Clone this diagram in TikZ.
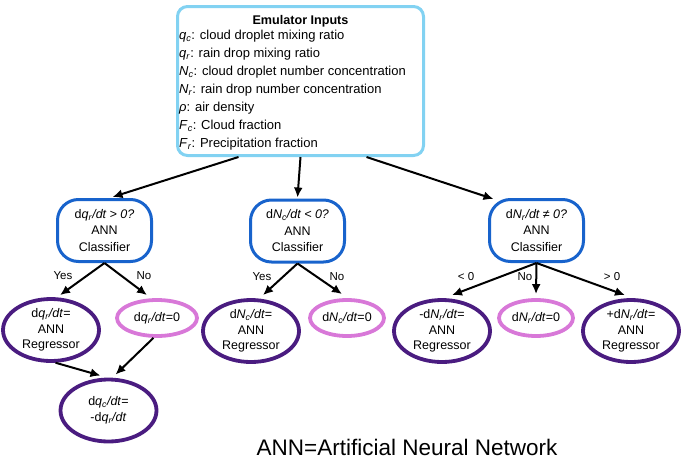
\documentclass[tikz,border=0pt]{standalone}
\usepackage{fontspec}
\setmainfont{Liberation Sans}
\usetikzlibrary{shapes.geometric,arrows.meta,calc}
\definecolor{skyc}{HTML}{82D2F2}
\definecolor{clsc}{HTML}{1863CC}
\definecolor{regc}{HTML}{4A1C80}
\definecolor{zeroc}{HTML}{D878D8}
\newcommand{\vq}[2]{\textit{#1}\textsubscript{\textit{#2}}}
\begin{document}
\begin{tikzpicture}[x=1pt,y=-1pt,
  inbox/.style={draw=skyc, line width=3pt, rounded corners=10pt, minimum width=246pt, minimum height=149pt},
  ttl/.style={font=\fontsize{12.6}{14}\selectfont\bfseries},
  inl/.style={anchor=base west, font=\fontsize{13}{14}\selectfont, inner sep=0pt},
  clsbox/.style={draw=clsc, line width=3pt, rounded corners=21pt, minimum width=94pt, minimum height=62pt, align=center, font=\fontsize{12.5}{16.5}\selectfont, inner sep=0pt},
  regell/.style={ellipse, draw=regc, line width=3.8pt, minimum width=96pt, minimum height=62pt, inner sep=0pt, align=center, font=\fontsize{12.5}{15.5}\selectfont},
  zeroell/.style={ellipse, draw=zeroc, line width=3.8pt, minimum width=80pt, minimum height=36pt, inner sep=0pt, align=center, font=\fontsize{12.5}{15}\selectfont},
  arr/.style={-{Latex[length=10pt,width=9pt]}, line width=2pt},
  lbl/.style={font=\fontsize{11.5}{13}\selectfont, inner sep=0pt}]
\useasboundingbox (0,0) rectangle (683,461);

% input box
\node[inbox] (inp) at (300.5,81) {};
\node[ttl] (title) at (300.5,21) {Emulator Inputs};
\node[inl] (l1) at (179,39.5) {\vq{q}{c}: cloud droplet mixing ratio};
\node[inl] (l2) at (179,57.5) {\vq{q}{r}: rain drop mixing ratio};
\node[inl] (l3) at (179,75.5) {\vq{N}{c}: cloud droplet number concentration};
\node[inl] (l4) at (179,93.5) {\vq{N}{r}: rain drop number concentration};
\node[inl] (l5) at (179,111.5) {\textit{ρ}: air density};
\node[inl] (l6) at (179,129.5) {\vq{F}{c}: Cloud fraction};
\node[inl] (l7) at (179,147.5) {\vq{F}{r}: Precipitation fraction};

% classifiers
\node[clsbox] (c1) at (104.5,230.5) {d\vq{q}{r}\textit{/dt > 0?}\\ANN\\Classifier};
\node[clsbox] (c2) at (297.5,231) {d\vq{N}{c}\textit{/dt < 0?}\\ANN\\Classifier};
\node[clsbox] (c3) at (536.5,230.5) {d\vq{N}{r}\textit{/dt ≠ 0?}\\ANN\\Classifier};

% outcomes
\node[regell] (r1) at (51,330) {d\vq{q}{r}\textit{/dt}=\\ANN\\Regressor};
\node[zeroell] (p1) at (157,318) {d\vq{q}{r}\textit{/dt}=0};
\node[regell] (b1) at (108.5,410.5) {d\vq{q}{c}\textit{/dt}=\\-d\vq{q}{r}\textit{/dt}};
\node[regell] (r2) at (251,331) {d\vq{N}{c}\textit{/dt}=\\ANN\\Regressor};
\node[zeroell, minimum width=74pt] (p2) at (347,318) {d\vq{N}{c}\textit{/dt}=0};
\node[regell] (r3) at (442,331) {-d\vq{N}{r}\textit{/dt}=\\ANN\\Regressor};
\node[zeroell, minimum width=74pt] (p3) at (536,318) {d\vq{N}{r}\textit{/dt}=0};
\node[regell] (r4) at (631,331) {+d\vq{N}{r}\textit{/dt}=\\ANN\\Regressor};

% arrows from inputs
\draw[arr] ($(inp.south)+(-62,0)$) -- ($(c1.north)+(8,-1)$);
\draw[arr] (inp.south) -- ($(c2.north)+(0,-1)$);
\draw[arr] ($(inp.south)+(66,0)$) -- ($(c3.north)+(-43,1)$);

% left tree
\draw[arr] (c1.south) -- ($(r1.north)+(9,-2)$);
\draw[arr] (c1.south) -- ($(p1.north)+(-10,-3)$);
\node[lbl] (y1) at (63,276) {Yes};
\node[lbl] (n1) at (144,276) {No};
\draw[arr] (r1.-82) -- ($(b1.north)+(-8,-2)$);
\draw[arr] (p1.-100) -- ($(b1.north)+(7,-3)$);

% middle tree
\draw[arr] (c2.south) -- ($(r2.north)+(12,-3)$);
\draw[arr] (c2.south) -- ($(p2.north)+(-5,-4)$);
\node[lbl] (y2) at (262,277) {Yes};
\node[lbl] (n2) at (337,277) {No};

% right tree
\draw[arr] (c3.south) -- ($(r3.north)+(10,-3)$);
\draw[arr] (c3.south) -- ($(p3.north)+(0,-4)$);
\draw[arr] (c3.south) -- ($(r4.north)+(-6,-3)$);
\node[lbl] (lt) at (466,277) {< 0};
\node[lbl] (n3) at (525,277) {No};
\node[lbl] (gt) at (612,277) {> 0};

\node[anchor=base, font=\fontsize{22.5}{26}\selectfont, inner sep=0pt] (cap) at (407,455) {ANN=Artificial Neural Network};
\end{tikzpicture}
\end{document}
